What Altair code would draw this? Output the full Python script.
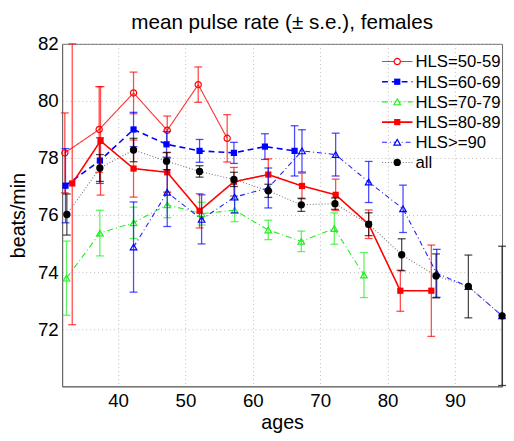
import altair as alt
import pandas as pd

# ---------------- data ----------------
series_names = ["HLS=50-59", "HLS=60-69", "HLS=70-79", "HLS=80-89", "HLS>=90", "all"]

ages_50 = [32.1, 37.2, 42.3, 47.3, 51.9, 56.2]
mean_50 = [78.18, 79.0, 80.28, 78.97, 80.57, 78.69]
se_50 = [1.4, 1.5, 0.73, 0.5, 0.62, 0.83]

ages_60 = [32.2, 37.3, 42.3, 47.2, 52.1, 57.2, 61.8, 66.2]
mean_60 = [77.03, 77.91, 79.0, 78.48, 78.25, 78.18, 78.4, 78.25]
se_60 = [1.3, 0.8, 0.6, 0.45, 0.4, 0.37, 0.45, 0.88]

ages_70 = [32.35, 37.3, 42.3, 47.3, 52.4, 57.3, 62.3, 67.2, 72.1, 76.5]
mean_70 = [73.79, 75.37, 75.73, 76.36, 76.05, 76.17, 75.48, 75.08, 75.53, 73.9]
se_70 = [1.3, 0.8, 0.55, 0.45, 0.4, 0.4, 0.34, 0.36, 0.55, 0.79]

ages_80 = [33.2, 37.4, 42.3, 47.3, 52.1, 57.2, 62.3, 67.3, 72.3, 77.2, 81.9, 86.5]
mean_80 = [77.11, 78.6, 77.63, 77.5, 76.15, 77.17, 77.42, 77.02, 76.71, 75.68, 73.35, 73.35]
se_80 = [4.95, 1.9, 1.0, 0.7, 0.6, 0.5, 0.55, 0.45, 0.55, 0.5, 0.72, 1.6]

ages_90 = [42.3, 47.3, 52.4, 57.3, 62.3, 67.3, 72.3, 77.2, 82.3, 87.3, 92.0, 97.0]
mean_90 = [74.88, 76.8, 75.85, 76.63, 76.95, 78.25, 78.12, 77.16, 76.22, 73.96, 73.5, 72.47]
se_90 = [1.58, 1.2, 0.86, 0.55, 0.7, 0.74, 0.75, 0.72, 0.83, 0.84, 0.0, 0.0]

ages_all = [32.4, 37.3, 42.3, 47.2, 52.1, 57.2, 62.3, 67.2, 72.2, 77.2, 82.1, 87.2, 92.0, 97.0]
mean_all = [76.02, 77.65, 78.28, 77.89, 77.53, 77.25, 76.85, 76.36, 76.4, 75.68, 74.61, 73.87, 73.5, 72.47]
se_all = [0.72, 0.47, 0.41, 0.3, 0.2, 0.25, 0.23, 0.23, 0.2, 0.4, 0.56, 0.77, 1.1, 2.44]

x_ticks = [40, 50, 60, 70, 80, 90]
y_ticks = [72, 74, 76, 78, 80, 82]

series_data = [
    (ages_50, mean_50, se_50),
    (ages_60, mean_60, se_60),
    (ages_70, mean_70, se_70),
    (ages_80, mean_80, se_80),
    (ages_90, mean_90, se_90),
    (ages_all, mean_all, se_all),
]

# ---------------- styles ----------------
styles = [
    dict(color="#ff0000", line="#ff3030", dash=[1, 0], shape="circle", filled=False, size=40, lw=1.1),
    dict(color="#0000ff", line="#0000ff", dash=[6, 4], shape="square", filled=True, size=40, lw=1.6),
    dict(color="#22ee22", line="#22ee22", dash=[6, 3, 1, 3], shape="triangle-up", filled=False, size=45, lw=1.1),
    dict(color="#ff0000", line="#ff0000", dash=[1, 0], shape="square", filled=True, size=40, lw=1.6),
    dict(color="#0000ff", line="#2020ff", dash=[5, 3, 1, 3], shape="triangle-up", filled=False, size=45, lw=1.1),
    dict(color="#000000", line="#777777", dash=[1, 2], shape="circle", filled=True, size=55, lw=1.1),
]

xscale = alt.Scale(domain=[31.7, 97.0], nice=False, zero=False)
yscale = alt.Scale(domain=[70, 82], nice=False, zero=False, clamp=True)

x_axis = alt.Axis(values=x_ticks, title="ages", grid=True, labelPadding=5, titlePadding=3)
y_axis = alt.Axis(values=y_ticks, title="beats/min", grid=True, labelPadding=4, titlePadding=9)


def X(field):
    return alt.X(field, scale=xscale, axis=x_axis)


def Y(field):
    return alt.Y(field, scale=yscale, axis=y_axis)


layers = []
legend_layers = []
for i, (name, (ages, means, ses), st) in enumerate(zip(series_names, series_data, styles)):
    df = pd.DataFrame({"age": ages, "mean": means, "se": ses})
    df["lo"] = df["mean"] - df["se"]
    df["hi"] = df["mean"] + df["se"]
    dfe = df[df["se"] > 0]

    base = alt.Chart(df)
    ebase = alt.Chart(dfe)

    line = base.mark_line(color=st["line"], strokeDash=st["dash"], strokeWidth=st["lw"]).encode(
        x=X("age:Q"), y=Y("mean:Q")
    )
    bars = ebase.mark_rule(color=st["color"], strokeWidth=1.3, opacity=0.7).encode(
        x=X("age:Q"), y=Y("lo:Q"), y2="hi:Q"
    )
    cap_lo = ebase.mark_tick(orient="horizontal", size=8, thickness=1.3, color=st["color"], opacity=0.7).encode(
        x=X("age:Q"), y=Y("lo:Q")
    )
    cap_hi = ebase.mark_tick(orient="horizontal", size=8, thickness=1.3, color=st["color"], opacity=0.7).encode(
        x=X("age:Q"), y=Y("hi:Q")
    )
    if st["filled"]:
        pts = base.mark_point(shape=st["shape"], filled=True, size=st["size"], color=st["color"], opacity=1).encode(
            x=X("age:Q"), y=Y("mean:Q")
        )
    else:
        pts = base.mark_point(shape=st["shape"], filled=False, size=st["size"], color=st["color"],
                              strokeWidth=1.2, opacity=1).encode(
            x=X("age:Q"), y=Y("mean:Q")
        )
    layers += [line, bars, cap_lo, cap_hi, pts]

    # legend entry
    ly = 18 + 20.5 * i
    ldf = pd.DataFrame({"label": [name]})
    lb = alt.Chart(ldf)
    legend_layers.append(
        lb.mark_rule(color=st["line"], strokeDash=st["dash"], strokeWidth=st["lw"]).encode(
            x=alt.value(325), x2=alt.value(356), y=alt.value(ly)
        )
    )
    if st["filled"]:
        legend_layers.append(
            lb.mark_point(shape=st["shape"], filled=True, size=st["size"], color=st["color"], opacity=1).encode(
                x=alt.value(340.5), y=alt.value(ly)
            )
        )
    else:
        legend_layers.append(
            lb.mark_point(shape=st["shape"], filled=False, size=st["size"], color=st["color"],
                          strokeWidth=1.2, opacity=1, fill="white", fillOpacity=1).encode(
                x=alt.value(340.5), y=alt.value(ly)
            )
        )
    legend_layers.append(
        lb.mark_text(align="left", baseline="middle", fontSize=17, font="Liberation Sans", color="black").encode(
            x=alt.value(359), y=alt.value(ly + 1), text="label:N"
        )
    )

chart = alt.layer(*layers, *legend_layers).properties(
    width=447,
    height=348,
    title=alt.TitleParams(
        "mean pulse rate (± s.e.), females",
        fontSize=21,
        fontWeight="normal",
        font="Liberation Sans",
        color="black",
        offset=2,
    ),
    autosize=alt.AutoSizeParams(type="none"),
    padding={"left": 55, "top": 33, "right": 4, "bottom": 45},
).configure_axis(
    labelFont="Liberation Sans",
    titleFont="Liberation Sans",
    labelFontSize=19,
    titleFontSize=20,
    titleFontWeight="normal",
    labelColor="black",
    titleColor="black",
    ticks=False,
    domainColor="#666666",
    gridColor="#bbbbbb",
    gridDash=[1, 3],
    gridWidth=1,
).configure_view(
    stroke="#666666", strokeWidth=1
)

chart.save("out.html", embed_options={"renderer": "svg", "actions": False})
